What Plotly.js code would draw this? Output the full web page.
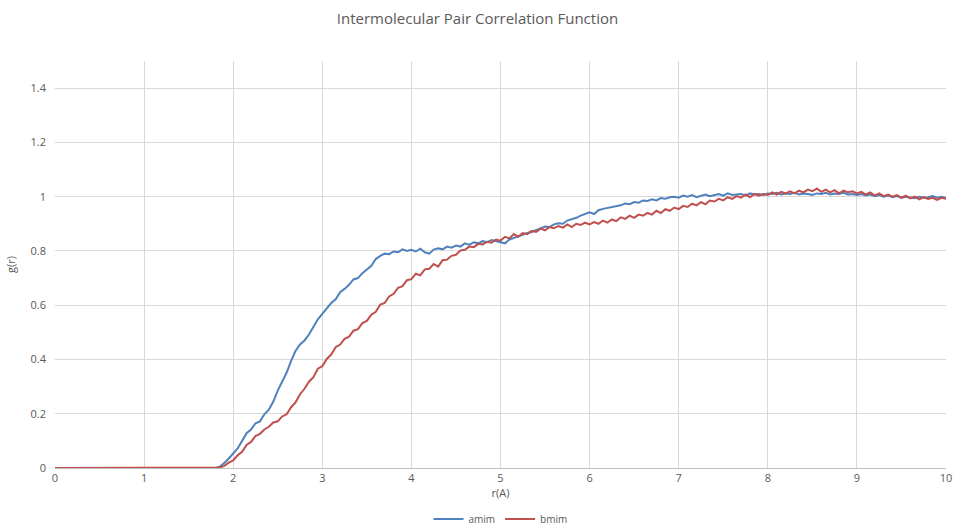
<!DOCTYPE html>
<html>
<head>
<meta charset="utf-8">
<script src="https://cdn.plot.ly/plotly-3.0.1.min.js"></script>
<style>html,body{margin:0;padding:0;background:#fff;}#chart{width:955px;height:526px;}</style>
</head>
<body>
<div id="chart"></div>
<script>
// r grid: 0 to 10 in steps of 0.05
const rStep = 0.05;
const seriesNames = ["amim", "bmim"];

const amim = [
0,0,0,0,0,0,0,0,0,0,0,0,0,0,0,0,0,0,0,0,0,0,0,0,0,0,0,0,0,0,0,0,0,0,0,0,
0.000,0.005,0.018,0.035,0.052,0.072,0.100,0.128,0.142,0.165,0.172,0.198,0.215,0.245,0.285,0.318,0.352,0.395,0.432,0.455,
0.470,0.492,0.520,0.548,0.568,0.590,0.608,0.622,0.648,0.660,0.675,0.695,0.700,0.718,0.732,0.745,0.770,0.782,0.790,0.788,
0.798,0.795,0.806,0.800,0.804,0.798,0.808,0.795,0.790,0.805,0.810,0.806,0.816,0.812,0.820,0.816,0.828,0.822,0.832,0.828,
0.836,0.832,0.840,0.836,0.830,0.828,0.842,0.848,0.856,0.860,0.866,0.870,0.876,0.882,0.890,0.888,0.898,0.902,0.900,0.912,
0.916,0.922,0.930,0.935,0.942,0.936,0.950,0.955,0.958,0.962,0.966,0.968,0.975,0.972,0.980,0.978,0.986,0.984,0.990,0.986,
0.995,0.992,0.998,1.000,0.996,1.004,1.000,1.006,0.998,1.004,1.008,1.002,1.006,1.010,1.004,1.012,1.006,1.008,1.010,1.004,
1.012,1.008,1.010,1.006,1.012,1.010,1.014,1.008,1.012,1.010,1.014,1.008,1.012,1.010,1.006,1.012,1.010,1.014,1.008,1.012,
1.010,1.014,1.008,1.010,1.006,1.010,1.004,1.008,1.002,1.006,1.000,1.004,0.998,1.002,0.996,1.000,0.998,0.994,1.000,0.996,
0.998,1.002,0.996,1.000,0.995
];

const bmim = [
0,0,0,0,0,0,0,0,0,0,0,0,0,0,0,0,0,0,0,0,0,0,0,0,0,0,0,0,0,0,0,0,0,0,0,0,
0.000,0.002,0.008,0.020,0.028,0.047,0.060,0.085,0.096,0.118,0.126,0.142,0.152,0.168,0.172,0.190,0.198,0.224,0.242,0.272,
0.292,0.318,0.335,0.366,0.375,0.402,0.418,0.445,0.455,0.476,0.484,0.506,0.512,0.534,0.542,0.565,0.576,0.602,0.608,0.632,
0.642,0.664,0.670,0.692,0.696,0.716,0.710,0.732,0.734,0.752,0.742,0.766,0.768,0.782,0.786,0.802,0.804,0.816,0.814,0.826,
0.824,0.834,0.830,0.842,0.838,0.852,0.846,0.862,0.852,0.866,0.862,0.874,0.870,0.882,0.876,0.888,0.884,0.892,0.886,0.898,
0.888,0.900,0.896,0.904,0.898,0.906,0.900,0.912,0.904,0.916,0.910,0.924,0.918,0.930,0.922,0.934,0.930,0.940,0.934,0.948,
0.940,0.954,0.948,0.960,0.954,0.966,0.962,0.974,0.968,0.980,0.972,0.986,0.982,0.992,0.986,0.998,0.992,1.002,0.996,1.008,
0.998,1.010,1.004,1.010,1.006,1.016,1.008,1.018,1.012,1.020,1.012,1.022,1.016,1.026,1.020,1.030,1.018,1.026,1.016,1.024,
1.012,1.022,1.016,1.020,1.012,1.018,1.008,1.016,1.004,1.012,1.002,1.008,1.000,1.006,0.996,1.004,0.994,1.000,0.990,0.998,
0.992,0.996,0.988,0.996,0.992
];

const xTicks = [0,1,2,3,4,5,6,7,8,9,10];
const yTicks = [0,0.2,0.4,0.6,0.8,1,1.2,1.4];

function rGrid(n){ const a=[]; for(let i=0;i<n;i++) a.push(Math.round(i*rStep*100)/100); return a; }

const font = "'Open Sans', 'Liberation Sans', sans-serif";
const traces = [
  {x: rGrid(amim.length), y: amim, name: seriesNames[0], type: 'scatter', mode: 'lines',
   line: {color: '#4f81bd', width: 2}},
  {x: rGrid(bmim.length), y: bmim, name: seriesNames[1], type: 'scatter', mode: 'lines',
   line: {color: '#c0504d', width: 2}}
];

const layout = {
  width: 955, height: 526,
  margin: {l: 55, r: 9, t: 61, b: 58, autoexpand: false},
  paper_bgcolor: '#ffffff', plot_bgcolor: '#ffffff',
  font: {family: font, color: '#595959', size: 11},
  title: {text: 'Intermolecular Pair Correlation Function', font: {size: 15, color: '#595959', family: font},
          x: 0.5, xanchor: 'center', y: 0.965, yanchor: 'middle'},
  xaxis: {range: [0, 10], tickvals: xTicks, ticktext: xTicks.map(String), automargin: false,
          showgrid: true, gridcolor: '#d9d9d9', gridwidth: 1,
          zeroline: false, showline: true, linecolor: '#bfbfbf', linewidth: 1,
          ticks: '', tickfont: {size: 11, color: '#595959'},
          title: {text: 'r(A)', font: {size: 11, color: '#595959'}, standoff: 4}},
  yaxis: {range: [0, 1.5], tickvals: yTicks, ticktext: yTicks.map(String), automargin: false,
          showgrid: true, gridcolor: '#d9d9d9', gridwidth: 1,
          zeroline: false, showline: false, ticks: '', ticklabelstandoff: 8,
          tickfont: {size: 11, color: '#595959'},
          title: {text: 'g(r)', font: {size: 11, color: '#595959'}, standoff: 12}},
  showlegend: true,
  legend: {orientation: 'h', x: 0.5, xanchor: 'center', y: -0.125, yanchor: 'middle',
           font: {size: 10, color: '#595959'}, itemwidth: 30, tracegroupgap: 0},
  hovermode: false
};

Plotly.newPlot('chart', traces, layout, {displayModeBar: false, staticPlot: true});
</script>
</body>
</html>
